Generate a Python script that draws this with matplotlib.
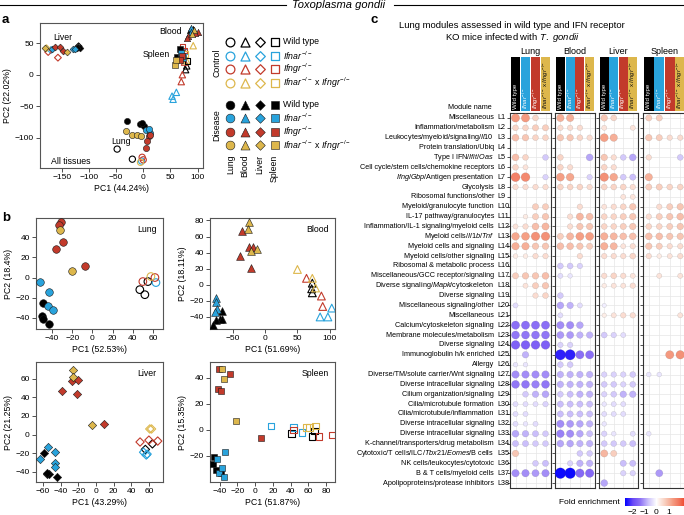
import numpy as np
import matplotlib
matplotlib.use('Agg')
import matplotlib.pyplot as plt
from matplotlib.colors import LinearSegmentedColormap, Normalize
from matplotlib.cm import ScalarMappable

plt.rcParams['font.family'] = ['Liberation Sans', 'DejaVu Sans']
plt.rcParams['mathtext.fontset'] = 'custom'
plt.rcParams['mathtext.rm'] = 'Liberation Sans'
plt.rcParams['mathtext.it'] = 'Liberation Sans:italic'
plt.rcParams['mathtext.bf'] = 'Liberation Sans:bold'

n = np.nan

# ---- shared labels / colours
tissues = ['Lung', 'Blood', 'Liver', 'Spleen']
tissue_markers = ['o', '^', 'D', 's']
geno_names = ['Wild type', r'$\it{Ifnar}^{-/-}$', r'$\it{Ifngr}^{-/-}$',
              r'$\it{Ifnar}^{-/-}$ x $\it{Ifngr}^{-/-}$']
geno_colors = ['#000000', '#29A3DC', '#C23A2B', '#DDB74C']

# ---- panel a: all tissues PCA (geno 0-3, dis 1 = disease, 0 = control)
a_lung_geno = [0, 0, 0, 0, 1, 1, 1, 2, 2, 2, 2, 3, 3, 3, 3, 0, 0, 2, 2, 3, 1]
a_lung_dis = [1] * 15 + [0] * 6
a_lung_pc1 = [-30, -6, 2, -2, 6, 13, 10, 10, 7, 5, 12, -31, -21, -12, -4, -48, -20, -2, 0, -5, -3]
a_lung_pc2 = [-74, -79, -81, -77, -88, -93, -86, -98, -105, -117, -95, -90, -95, -96, -98,
              -118, -134, -131, -135, -139, -137]

a_blood_geno = [1, 1, 0, 0, 2, 2, 2, 2, 3, 3, 3, 3, 2, 2, 2, 1, 1, 1, 0, 0]
a_blood_dis = [1] * 10 + [0] * 10
a_blood_pc1 = [87, 88, 91, 86, 100, 83, 96, 81, 93, 90, 92, 80, 72, 70, 76, 61, 55, 53, 78, 80]
a_blood_pc2 = [74, 68, 72, 71, 68, 62, 66, 58, 71, 64, 46, 22, 0, -11, 20, -28, -39, -34, 8, 14]

a_liver_geno = [0, 0, 0, 1, 1, 1, 2, 2, 2, 3, 3, 2, 2, 3, 1, 0]
a_liver_dis = [1] * 11 + [0] * 5
a_liver_pc1 = [-120, -116, -122, -130, -126, -168, -163, -154, -148, -141, -180,
               -175, -157, -178, -170, -119]
a_liver_pc2 = [44, 42, 43, 41, 40, 41, 44, 44, 38, 36, 43, 36, 27, 42, 39, 45]

a_spleen_geno = [3, 3, 1, 1, 0, 0, 2, 2, 2, 2, 1, 0, 3]
a_spleen_dis = [1] * 8 + [0] * 5
a_spleen_pc1 = [59, 61, 69, 74, 67, 63, 72, 67, 72, 76, 75, 81, 78]
a_spleen_pc2 = [16, 24, 35, 26, 40, 28, 30, 24, 44, 38, 37, 22, 33]

# ---- panel b: per tissue PCA
b_lung_geno = [2, 2, 2, 2, 2, 3, 3, 1, 1, 1, 1, 0, 0, 0, 0, 0, 0, 0, 2, 2, 3, 1]
b_lung_dis = [1] * 15 + [0] * 7
b_lung_pc1 = [-31, -33, -29, -36, -7, -32, -20, -52, -43, -44, -39, -49, -50, -49, -43,
              47, 52, 55, 50, 62, 58, 63]
b_lung_pc2 = [55, 52, 35, 28, 11, 47, 6, -4, -14, -28, -32, -25, -38, -41, -46,
              -12, -17, -4, -4, 0, 1, -5]

b_blood_geno = [3, 3, 3, 3, 2, 2, 2, 2, 2, 1, 1, 1, 1, 0, 0, 0, 0, 0,
                3, 3, 3, 2, 2, 2, 0, 0, 0, 1, 1, 1]
b_blood_dis = [1] * 18 + [0] * 12
b_blood_pc1 = [-25, -27, -13, -22, -35, -25, -19, -38, -22, -76, -75, -74, -77,
               -66, -69, -75, -80, -67,
               50, 73, 78, 64, 87, 89, 73, 72, 73, 103, 85, 97]
b_blood_pc2 = [78, 69, 45, 42, 67, 47, 47, 36, 21, -16, -22, -30, -34,
               -32, -42, -44, -50, -43,
               19, 8, -4, 8, -14, -27, 2, -5, -10, -29, -40, -40]

b_liver_geno = [3, 3, 3, 2, 2, 2, 2, 2, 1, 1, 1, 1, 1, 0, 0, 0, 0, 0,
                2, 2, 2, 3, 3, 0, 0, 1, 1, 1]
b_liver_dis = [1] * 18 + [0] * 10
b_liver_pc1 = [-26, -26, -5, -27, -20, -38, -22, 9, -54, -46, -63, -47, -47,
               -59, -56, -53, -44, -55,
               50, 60, 70, 61, 63, 64, 56, 54, 58, 57]
b_liver_pc2 = [69, 62, 10, 58, 59, 47, 44, 11, -13, -19, -26, -31, -35,
               -20, -42, -42, -46, -41,
               -8, -6, -7, 6, 6, -10, -16, -19, -21, -22]

b_spleen_geno = [2, 2, 2, 2, 2, 3, 3, 3, 1, 1, 1, 1, 1, 0, 0, 0, 0,
                 1, 1, 1, 0, 0, 0, 2, 2, 2, 3, 3, 3]
b_spleen_dis = [1] * 17 + [0] * 12
b_spleen_pc1 = [-41, -29, -42, -39, 7, -37, -35, -22, -34, -43, -41, -37, -35,
                -46, -48, -44, -39,
                18, 43, 53, 41, 67, 64, 43, 72, 87, 58, 61, 68]
b_spleen_pc2 = [47, 43, 31, 30, -6, 47, 39, 7, -17, -22, -33, -29, -36,
                -21, -26, -31, -33,
                3, 2, -2, -3, -1, -5, 0, -5, -4, 2, 2, 3]

# ---- panel c: module fold enrichment (rows L1..L38, cols WT, Ifnar, Ifngr, double)
module_names = [
    'Miscellaneous', 'Inflammation/metabolism', r'Leukocytes/myeloid/signaling/$\it{Il10}$',
    'Protein translation/Ubiq', r'Type I IFN/$\it{Ifit}$/$\it{Oas}$',
    'Cell cycle/stem cells/chemokine receptors', r'$\it{Ifng}$/$\it{Gbp}$/Antigen presentation',
    'Glycolysis', 'Ribosomal functions/other', 'Myeloid/granulocyte function',
    'IL-17 pathway/granulocytes', 'Inflammation/IL-1 signaling/myeloid cells',
    r'Myeloid cells/$\it{Il1b}$/$\it{Tnf}$', 'Myeloid cells and signaling',
    'Myeloid cells/other signaling', 'Ribosomal & metabolic process',
    'Miscellaneous/GCC receptor/signaling', r'Diverse signaling/$\it{Mapk}$/cytoskeleton',
    'Diverse signaling', 'Miscellaneous signaling/other', 'Miscellaneous',
    'Calcium/cytoskeleton signaling', 'Membrane molecules/metabolism', 'Diverse signaling',
    'Immunoglobulin h/k enriched', 'Allergy', 'Diverse/TM/solute carrier/Wnt signaling',
    'Diverse intracellular signaling', 'Cilium organization/signaling',
    'Cilia/microtubule formation', 'Cilia/microtubule/inflammation',
    'Diverse intracellular signaling', 'Diverse intracellular signaling',
    'K-channel/transporters/drug metabolism',
    r'Cytotoxic/T cells/ILC/$\it{Tbx21}$/$\it{Eomes}$/B cells',
    'NK cells/leukocytes/cytotoxic', 'B & T cells/myeloid cells',
    'Apolipoproteins/protease inhibitors']

lung_fe = [
    [1.4, 1.4, 0.6, n], [0.6, 0.6, 0.7, 0.7], [0.9, 0.8, 0.6, 0.6], [n, n, n, n],
    [0.9, 0.6, n, -0.6], [0.6, 0.4, n, n], [1.7, 1.6, n, -0.5], [0.5, 0.5, 0.5, 0.5],
    [n, n, n, n], [n, n, 0.7, 0.7], [n, 0.3, 0.7, 0.8], [0.4, 0.5, 0.9, 1.0],
    [1.2, 1.3, 1.5, 1.5], [1.1, 1.1, 0.8, 0.8], [0.3, 0.3, 0.5, 0.5], [n, n, n, n],
    [0.7, 0.8, 0.8, 0.9], [n, 0.4, 0.7, 0.8], [n, n, 0.5, 0.6], [-0.4, n, n, n],
    [n, n, n, n], [-1.4, -1.4, -1.4, -1.4], [-1.3, -1.3, -1.3, -1.3], [-1.6, -1.6, -1.6, -1.6],
    [n, -0.8, n, n], [-0.3, -0.3, n, n], [-1.1, -1.1, -1.1, -1.1], [-1.3, -1.3, -1.2, -1.3],
    [n, -0.6, -0.8, -0.9], [-0.4, -0.4, -0.4, -0.5], [-0.4, -0.4, n, n], [-0.4, -0.3, -0.4, n],
    [-0.9, -0.8, -0.7, -0.6], [-0.7, -0.7, -0.6, -0.6], [0.8, n, n, n], [n, n, -0.6, -0.7],
    [-1.1, -1.1, -1.0, -1.1], [n, n, n, n]]

blood_fe = [
    [1.1, 1.1, n, n], [0.5, 0.5, 0.5, n], [0.8, 0.8, 0.6, 0.5], [n, n, n, n],
    [0.6, n, n, -0.9], [0.6, 0.5, n, n], [1.3, 1.2, n, -0.5], [0.6, 0.6, 0.6, 0.5],
    [n, n, n, n], [n, n, 0.5, n], [n, 0.5, 1.0, 0.9], [n, 0.5, 0.8, 0.8],
    [0.7, 1.0, 1.3, 1.3], [0.9, 0.9, 0.8, 0.7], [n, n, 0.5, n], [-0.6, -0.6, -0.5, n],
    [-0.4, -0.3, n, n], [n, n, n, n], [-0.6, n, n, n], [-0.9, -0.8, -0.4, n],
    [-0.4, n, n, n], [-1.1, -1.1, -0.9, n], [-1.0, -1.0, -0.8, -0.8], [-0.5, -0.5, n, n],
    [-2.3, -2.3, -1.4, -1.4], [-0.6, -0.6, n, n], [-0.8, -0.8, -0.8, -0.8], [-0.8, -0.8, -0.8, -0.8],
    [-0.6, -0.7, -0.8, -0.8], [-0.7, -0.7, -0.7, -0.7], [-0.7, -0.7, -0.7, -0.7], [-1.1, -1.0, -0.9, -0.8],
    [-1.2, -1.1, -0.9, -0.7], [-0.9, -0.9, -0.8, -0.8], [n, n, -0.6, -0.6], [n, -0.5, -0.8, -0.8],
    [-2.5, -2.5, -1.5, -1.5], [n, n, n, n]]

liver_fe = [
    [0.8, 0.6, n, n], [0.4, n, n, 0.4], [1.3, 1.1, n, n], [n, n, n, n],
    [0.8, 0.5, -0.6, -0.9], [0.6, 0.5, n, n], [1.5, 1.2, -0.6, -0.7], [0.6, 0.6, 0.6, 0.5],
    [n, n, 0.4, 0.4], [0.4, 0.5, 0.6, 0.8], [0.6, 0.6, 0.7, 0.8], [0.6, 0.6, 0.7, 0.8],
    [1.1, 1.0, 0.9, 0.9], [1.1, 1.0, 0.4, 0.5], [0.5, 0.5, 0.5, 0.6], [n, n, n, n],
    [0.5, 0.6, 0.5, 0.4], [0.3, 0.4, 0.4, 0.5], [n, n, n, n], [-0.2, n, n, n],
    [0.25, 0.4, 0.5, 0.5], [n, n, n, n], [-0.6, -0.5, -0.4, n], [n, n, n, n],
    [n, n, n, n], [n, n, n, n], [-0.5, -0.5, -0.5, -0.6], [-0.6, -0.6, -0.5, -0.6],
    [-0.5, -0.6, -0.8, -0.8], [-0.3, -0.4, -0.4, n], [-0.4, -0.4, -0.4, n], [-0.3, n, n, n],
    [-0.5, -0.3, n, -0.4], [-0.6, -0.6, -0.6, -0.7], [1.0, 0.7, n, n], [n, n, -0.7, -0.7],
    [n, n, -0.5, -0.5], [-0.9, n, n, n]]

spleen_fe = [
    [0.7, 0.7, n, n], [n, n, n, n], [0.8, 0.7, 0.5, 0.5], [n, n, n, n],
    [0.5, n, n, -0.6], [n, n, n, n], [1.1, n, n, n], [0.7, 0.7, 0.6, 0.6],
    [n, n, n, n], [n, 0.5, 0.7, 0.8], [0.5, 0.7, 0.8, 0.9], [0.6, 0.6, 0.7, 0.8],
    [0.9, 0.9, 0.8, 0.8], [0.8, 0.7, 0.5, 0.5], [0.5, 0.3, 0.4, 0.5], [n, n, n, n],
    [n, 0.4, n, 0.4], [n, n, n, n], [n, n, n, n], [n, n, n, n],
    [n, n, n, 0.4], [n, n, n, n], [n, n, n, n], [n, n, n, n],
    [n, n, 1.4, 1.5], [n, n, n, n], [-0.3, -0.3, n, n], [n, n, n, n],
    [n, n, n, n], [n, n, n, n], [n, n, n, n], [n, n, n, n],
    [-0.3, n, n, n], [n, n, n, n], [n, n, n, n], [n, n, n, n],
    [n, -1.0, n, n], [n, n, n, n]]

cbar_ticks = [-2, -1, 0, 1]

# ---------------------------------------------------------------------------
W, H = 684, 515
fig = plt.figure(figsize=(W / 100, H / 100), dpi=100)


def box(x0, y0, x1, y1):
    # pixel box (top-left origin) -> figure fraction
    return [x0 / W, 1 - y1 / H, (x1 - x0) / W, (y1 - y0) / H]


msize = {'o': 1.0, '^': 1.05, 'D': 0.6, 's': 0.75}


def draw_points(ax, marker, geno, dis, pc1, pc2, size):
    geno, dis = np.asarray(geno), np.asarray(dis)
    pc1, pc2 = np.asarray(pc1, float), np.asarray(pc2, float)
    for d in (0, 1):
        for g in range(4):
            m = (geno == g) & (dis == d)
            if not m.any():
                continue
            if d:
                ax.scatter(pc1[m], pc2[m], s=size * msize[marker], marker=marker,
                           facecolors=geno_colors[g], edgecolors='#1a1a1a',
                           linewidths=0.4, zorder=3)
            else:
                ax.scatter(pc1[m], pc2[m], s=size * msize[marker], marker=marker,
                           facecolors='none', edgecolors=geno_colors[g],
                           linewidths=0.8, zorder=2)


def style_pca(ax, xlim, ylim, xticks, yticks, xlabel, ylabel):
    ax.set_xlim(xlim)
    ax.set_ylim(ylim)
    ax.set_xticks(xticks)
    ax.set_yticks(yticks)
    ax.tick_params(labelsize=6, length=3, width=0.6, pad=1.5, color='#333333')
    ax.set_xlabel(xlabel, fontsize=6.3, labelpad=2)
    ax.set_ylabel(ylabel, fontsize=6.3, labelpad=2)
    for sp in ax.spines.values():
        sp.set_color('#555555')
        sp.set_linewidth(0.8)


# header
yh = 1 - 5 / H
fig.add_artist(plt.Line2D([0, 286 / W], [yh, yh], transform=fig.transFigure, color='k', lw=0.8))
fig.add_artist(plt.Line2D([394 / W, 1], [yh, yh], transform=fig.transFigure, color='k', lw=0.8))
fig.text(339 / W, yh, 'Toxoplasma gondii', style='italic', fontsize=8, ha='center', va='center')
for lab, (px, py) in zip('abc', [(2, 20), (2, 218), (370, 20)]):
    fig.text(px / W, 1 - py / H, lab, fontsize=9.5, fontweight='bold', va='center')

# ---- panel a
ax = fig.add_axes(box(40, 23, 203, 168))
draw_points(ax, 'o', a_lung_geno, a_lung_dis, a_lung_pc1, a_lung_pc2, 20)
draw_points(ax, '^', a_blood_geno, a_blood_dis, a_blood_pc1, a_blood_pc2, 20)
draw_points(ax, 'D', a_liver_geno, a_liver_dis, a_liver_pc1, a_liver_pc2, 20)
draw_points(ax, 's', a_spleen_geno, a_spleen_dis, a_spleen_pc1, a_spleen_pc2, 20)
style_pca(ax, (-190, 110), (-148, 82), [-150, -100, -50, 0, 50, 100], [-100, -50, 0, 50],
          'PC1 (44.24%)', 'PC2 (22.02%)')
for txt, x, y, ha in [('Liver', 0.14, 0.9, 'center'), ('Blood', 0.87, 0.94, 'right'),
                      ('Spleen', 0.80, 0.78, 'right'), ('Lung', 0.5, 0.18, 'center'),
                      ('All tissues', 0.07, 0.045, 'left')]:
    ax.text(x, y, txt, transform=ax.transAxes, fontsize=6.3, ha=ha, va='center')

# legend of panel a
lax = fig.add_axes(box(222, 35, 282, 153))
lax.set_xlim(0.44, 4.5)
lax.set_ylim(8.16, -0.51)
lax.axis('off')
ctrl_rows = [0, 1, 2, 3]
dis_rows = [4.6, 5.6, 6.6, 7.6]
for t, mk in enumerate(tissue_markers):
    for g in range(4):
        lax.scatter(t + 1, ctrl_rows[g], marker=mk, s=40 * msize[mk], facecolors='white',
                    edgecolors=geno_colors[g], linewidths=0.9, clip_on=False)
        lax.scatter(t + 1, dis_rows[g], marker=mk, s=40 * msize[mk], facecolors=geno_colors[g],
                    edgecolors='#1a1a1a', linewidths=0.4, clip_on=False)
    lax.text(t + 1, 8.3, tissues[t], rotation=90, ha='center', va='top', fontsize=6.3)
for g in range(4):
    lax.text(4.55, ctrl_rows[g], geno_names[g], fontsize=6.3, va='center')
    lax.text(4.55, dis_rows[g], geno_names[g], fontsize=6.3, va='center')
lax.text(0.1, 1.5, 'Control', rotation=90, ha='center', va='center', fontsize=6.3)
lax.text(0.1, 6.1, 'Disease', rotation=90, ha='center', va='center', fontsize=6.3)

# ---- panel b
b_specs = [
    (box(36, 218, 163, 329), 'o', b_lung_geno, b_lung_dis, b_lung_pc1, b_lung_pc2,
     (-56, 70), (-51, 59), [-40, -20, 0, 20, 40, 60], [-40, -20, 0, 20, 40],
     'PC1 (52.53%)', 'PC2 (18.4%)', 'Lung'),
    (box(210, 218, 335, 329), '^', b_blood_geno, b_blood_dis, b_blood_pc1, b_blood_pc2,
     (-85, 108), (-55, 83), [-50, 0, 50, 100], [-40, -20, 0, 20, 40, 60, 80],
     'PC1 (51.69%)', 'PC2 (18.11%)', 'Blood'),
    (box(36, 362, 163, 482), 'D', b_liver_geno, b_liver_dis, b_liver_pc1, b_liver_pc2,
     (-68, 76), (-51, 78), [-60, -40, -20, 0, 20, 40, 60], [-40, -20, 0, 20, 40, 60],
     'PC1 (43.29%)', 'PC2 (21.25%)', 'Liver'),
    (box(210, 362, 335, 482), 's', b_spleen_geno, b_spleen_dis, b_spleen_pc1, b_spleen_pc2,
     (-51, 90), (-40, 52), [-40, -20, 0, 20, 40, 60, 80], [-20, 0, 20, 40],
     'PC1 (51.87%)', 'PC2 (15.35%)', 'Spleen'),
]
for pos, mk, g, d, x, y, xl, yl, xt, yt, xlab, ylab, name in b_specs:
    ax = fig.add_axes(pos)
    draw_points(ax, mk, g, d, x, y, 30)
    style_pca(ax, xl, yl, xt, yt, xlab, ylab)
    ax.text(0.95, 0.9, name, transform=ax.transAxes, fontsize=6.3, ha='right', va='center')

# ---- panel c
fig.text(512 / W, 1 - 25 / H, 'Lung modules assessed in wild type and IFN receptor',
         fontsize=6.8, ha='center', va='center')
fig.text(512 / W, 1 - 38 / H, r'KO mice infected with $\it{T.\ gondii}$',
         fontsize=6.8, ha='center', va='center')

cmap = LinearSegmentedColormap.from_list('fe', [
    (0.0, '#0000FF'), (0.125, '#6A48F6'), (0.25, '#9176F5'), (0.375, '#CFC5FA'),
    (0.5, '#FFFFFF'), (0.625, '#F8D2C3'), (0.75, '#F5A086'), (0.875, '#F06E55'),
    (1.0, '#F02A10')])
norm = Normalize(-2.6, 2.6)

panel_x = [(510, 551), (555, 595), (599, 638), (643, 686)]
fe_sets = [lung_fe, blood_fe, liver_fe, spleen_fe]
rows = np.arange(1, 39)
cols = np.arange(1, 5)
strip_text = ['white', 'white', 'white', '#111111']
facets = []
for k, (x0, x1) in enumerate(panel_x):
    ax = fig.add_axes(box(x0, 113, x1, 488))
    vals = np.array(fe_sets[k], dtype=float)
    cc, rr = np.meshgrid(cols, rows)
    m = ~np.isnan(vals)
    ax.scatter(cc[m], rr[m], s=5 + 22 * np.abs(vals[m]), c=vals[m], cmap=cmap, norm=norm,
               edgecolors=(0.3, 0.3, 0.3, 0.25), linewidths=0.3, zorder=3)
    ax.set_xlim(0.45, 4.55)
    ax.set_ylim(38.5, 0.5)
    ax.set_xticks(cols)
    ax.set_yticks(rows)
    ax.tick_params(axis='x', length=0, labelbottom=False)
    ax.tick_params(axis='y', length=2.2, width=0.6, labelleft=False, color='#333333')
    ax.grid(True, color='#E6E6E6', lw=0.5)
    ax.set_axisbelow(True)
    for sp in ax.spines.values():
        sp.set_color('#333333')
        sp.set_linewidth(0.8)
    facets.append(ax)

    sax = fig.add_axes(box(x0, 57, x1, 111))
    sax.bar(cols, np.ones(4), width=0.94, color=geno_colors)
    sax.set_xlim(0.45, 4.55)
    sax.set_ylim(0, 1)
    sax.axis('off')
    for c, lab, tc in zip(cols, geno_names, strip_text):
        sax.text(c, 0.04, lab, rotation=90, ha='center', va='bottom', fontsize=4.4, color=tc)
    sax.set_title(tissues[k], fontsize=6.5, pad=2)

ax0 = facets[0]
tr = ax0.get_yaxis_transform()
for r, name in zip(rows, module_names):
    ax0.text(-0.39, r, name, transform=tr, ha='right', va='center', fontsize=5.2)
    ax0.text(-0.317, r, f'L{r}', transform=tr, ha='left', va='center', fontsize=5.2)
ax0.text(-0.44, -0.1, 'Module name', transform=tr, ha='right', va='center', fontsize=5.2)

cax = fig.add_axes(box(625, 498, 688, 506))
cb = fig.colorbar(ScalarMappable(norm=norm, cmap=cmap), cax=cax, orientation='horizontal',
                  ticks=cbar_ticks)
cb.outline.set_visible(False)
cb.ax.tick_params(labelsize=6, length=0, pad=2)
fig.text(620 / W, 1 - 502 / H, 'Fold enrichment', fontsize=6, ha='right', va='center')

fig.savefig('out.png', dpi=100)
